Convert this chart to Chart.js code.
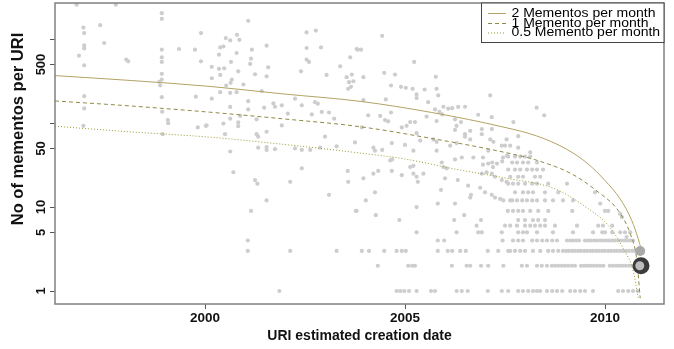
<!DOCTYPE html>
<html>
<head>
<meta charset="utf-8">
<script src="https://cdn.jsdelivr.net/npm/chart.js@4.4.1/dist/chart.umd.min.js"></script>
<style>
  body { margin: 0; background: #fff; }
  #wrap { width: 674px; height: 349px; }
</style>
</head>
<body>
<div id="wrap"><canvas id="mementoChart" width="674" height="349"></canvas></div>
<script>
// axis ticks
const xTicks = [2000, 2005, 2010];
const yTicks = [1, 5, 10, 50, 100, 500, 1000];
const yTickLabels = [1, 5, 10, 50, 500];

// reference curves (mementos expected at a fixed rate)
const curveYears2 = [1996.25, 1998.17, 2000.13, 2001.92, 2003.88, 2005.67, 2007.5, 2008.29, 2009.04, 2009.58, 2010.0, 2010.38, 2010.67, 2010.83, 2010.9];
const perMonth2 = [369, 322, 274, 224, 182, 134, 89, 70.5, 49, 32.6, 20.7, 12.5, 6.9, 4.2, 3.2];
const curveYears1 = [1996.25, 1998.17, 2000.13, 2001.92, 2003.88, 2005.67, 2007.5, 2008.33, 2009.17, 2009.83, 2010.33, 2010.63, 2010.79, 2010.88];
const perMonth1 = [184, 160, 135, 113, 90.7, 65.7, 44.8, 35.7, 24.8, 15.1, 9.1, 4.83, 2.44, 0.82];
const curveYears05 = [1996.25, 1998.17, 2000.13, 2001.92, 2003.75, 2005.0, 2006.25, 2007.5, 2008.75, 2009.58, 2010.08, 2010.46, 2010.71, 2010.83];
const perMonth05 = [91.9, 78.6, 68.1, 56.2, 44.8, 37.4, 28.4, 22.2, 16.5, 9.55, 6.05, 3.2, 1.7, 0.82];

// URIs: [estimated creation year, number of mementos]
const uriPoints = [
  [1996.79,2585],[1997.77,2585],[1998.92,2044],[1998.92,1750],[1996.96,1380],[1997.38,1473],[1996.98,1184],[1999.9,1184],
  [1997.48,902],[1996.98,845],[1996.98,778],[1998.92,751],[1999.35,766],[1999.75,751],[1996.85,637],[1998.92,609],
  [1998.03,572],[1998.08,546],[1998.92,537],[1999.9,546],[1996.98,489],[1998.92,387],[1998.92,331],[1998.86,311],
  [1998.88,281],[1996.98,210],[1998.92,204],[1999.77,207],[1996.98,150],[1998.93,137],[1999.07,109],[1999.08,100],
  [1999.82,89],[2000.02,93],[1996.96,93],[1998.94,74],
  [2001.08,1657],[2002.54,1205],[2002.77,1271],[2000.8,1131],[2000.52,1033],[2000.63,968],[2000.86,986],[2000.38,800],
  [2000.46,820],[2001.54,838],[2001.17,751],[2002.54,787],[2002.9,800],[2003.82,751],[2000.35,655],[2000.79,686],
  [2001.15,587],[2002.54,572],[2002.6,537],[2003.63,609],[2000.65,537],[2001.13,508],[2000.17,469],[2001.58,463],
  [2003.38,476],[2000.35,444],[2000.48,451],[2000.83,415],[2002.4,415],[2001.25,383],[2000.38,376],[2001.54,362],
  [2003.04,376],[2003.67,380],[2003.54,353],[2003.6,308],[2003.71,316],[2003.65,271],[2003.58,257],[2000.17,343],
  [2000.67,331],[2000.64,303],[2000.96,289],[2000.53,281],[2001.42,241],[2000.38,234],[2000.63,230],[2000.79,234],
  [2000.17,196],[2002.25,196],[2001.08,183],[2001.71,172],[2001.75,157],[2002.75,178],[2002.82,171],[2000.63,156],
  [2001.48,153],[2001.92,163],[2002.42,163],[2001.08,146],[2002.92,136],[2003.1,134],[2002.07,130],[2000.88,122],
  [2002.67,127],[2000.63,113],[2003.23,113],[2001.29,111],[2000.83,102],[2000.83,92],[2000.46,99],[2001.92,94],
  [2000.04,94],[2001.54,79],[2001.29,74],[2001.33,69],[2000.5,74],[2003.0,69],[2003.75,59],[2001.33,51],
  [2001.54,52],[2001.54,48],[2001.75,49],[2002.25,50],[2002.88,51],[2003.29,53],[2000.63,46],
  [2004.43,1100],[2003.79,766],[2003.9,751],[2005.23,537],[2004.48,398],[2004.75,380],[2003.96,353],[2005.77,357],
  [2004.65,281],[2004.9,271],[2005.02,264],[2005.19,257],[2005.49,252],[2005.79,257],[2005.29,220],[2005.29,199],
  [2005.83,214],[2007.13,214],[2004.52,192],[2003.96,188],[2005.58,178],[2005.96,157],[2006.08,149],[2006.18,151],
  [2006.33,156],[2006.5,157],[2005.75,146],[2005.86,136],[2005.93,127],[2004.65,134],[2004.08,124],[2004.38,122],
  [2005.54,120],[2006.83,126],[2004.5,109],[2004.58,105],[2005.25,103],[2005.13,103],[2006.25,111],[2006.4,103],
  [2007.17,118],[2003.92,89],[2005.79,106],[2004.92,89],[2005.04,93],[2006.29,93],[2006.25,83],[2006.92,85],
  [2007.17,85],[2005.29,76],[2006.63,81],[2006.63,64],[2006.5,74],[2006.5,69],[2006.92,74],[2007.13,64],
  [2007.21,60],[2004.67,58],[2005.0,55],[2005.38,62],[2005.71,64],[2005.79,60],[2006.13,54],[2006.29,58],
  [2007.42,54],[2007.5,54],[2004.21,51],[2004.25,47],[2004.43,48],[2005.79,47],[2007.08,47],
  [2008.29,153],[2008.48,124],[2007.71,103],[2007.83,70],[2007.54,64],[2007.63,54],[2007.83,51],[2008.13,45],
  [2002.42,48],[2002.63,48],[2000.71,26],[2002.42,29],[2003.57,27],[2001.25,21],[2001.31,19],[2002.13,20],
  [2003.58,20],[2003.1,14],[2001.54,12],[2001.15,9],[2003.77,9],
  [2005.21,47],[2004.63,36],[2004.68,37],[2005.13,30],[2005.21,31],[2004.33,27],[2004.21,25],[2004.67,27],
  [2004.92,24],[2005.21,25],[2005.29,23],[2005.32,20],[2005.46,25],[2005.92,34],[2005.96,30],[2006.04,29],
  [2006.25,37],[2006.42,39],[2006.71,39],[2006.95,39],[2006.95,32],[2007.08,33],[2007.18,34],[2007.2,30],
  [2007.3,33],[2007.43,35],[2007.45,39],[2007.55,41],[2006.0,22],[2006.32,21],[2003.96,22],[2006.92,25],
  [2007.04,26],[2007.17,25],[2007.25,23],[2007.42,21],[2007.54,20],[2006.58,18],[2006.88,17],[2007.0,15],
  [2007.17,14],[2007.25,13],[2007.38,12.5],[2007.46,12],[2006.65,14],[2006.63,13],[2005.9,16],[2004.25,15],
  [2004.02,12],[2005.82,11],[2006.25,11],[2005.29,10],[2007.57,9],[2003.79,9],[2004.27,8],[2006.48,8],
  [2004.86,7],[2006.23,7],[2006.9,7],[2006.79,6],[2007.5,6],
  [2007.83,7],[2008.0,7],[2008.2,7],[2008.33,7],[2008.5,7],
  [2007.7,9],[2007.83,9],[2007.95,9],[2008.13,9],[2008.33,9],[2008.58,9],[2009.18,9],[2010.0,9],[2010.08,9],
  [2007.63,12],[2007.68,12],[2007.8,12],[2007.93,12],[2008.05,12],[2008.18,12],[2008.3,12],[2008.5,12],[2008.7,12],[2008.95,12],[2009.2,12],
  [2007.75,15],[2007.95,15],[2008.08,15],[2008.2,15],[2008.5,15],[2008.83,15],
  [2007.58,19],[2007.7,19],[2007.83,19],[2008.0,19],[2008.18,19],[2008.3,19],[2008.58,19],[2009.05,19],
  [2007.63,23],[2007.83,23],[2007.95,23],[2008.25,23],[2008.38,23],
  [2007.58,28],[2007.75,28],[2007.88,28],[2008.05,28],[2008.18,28],[2008.3,28],[2008.45,28],
  [2007.68,34],[2007.8,34],[2007.95,34],[2008.08,34],[2008.3,34],
  [2007.58,40],[2007.75,40],[2007.88,40],[2008.0,40],[2008.13,40],
  [2009.75,15],[2009.88,11],[2010.42,7.6],[2010.38,8.3],[2010.54,4.4]
];

// URIs with small integer counts (rows at the bottom)
const yearsAt1 = [2001.86, 2004.79, 2004.88, 2004.98, 2005.1, 2005.29, 2005.65, 2005.75, 2006.29, 2006.42, 2006.57, 2007.07, 2007.42,
  2007.58, 2007.83, 2007.95, 2008.08, 2008.2, 2008.3, 2008.38, 2008.55, 2008.68, 2008.8, 2008.93, 2009.13, 2009.25, 2009.38, 2009.5,
  2009.7, 2010.33, 2010.45, 2010.58, 2010.7, 2010.82];
const yearsAt2 = [2004.32, 2005.08, 2005.18, 2005.25, 2006.17, 2006.54, 2006.63, 2006.9, 2007.08, 2007.46, 2007.92, 2008.05,
  2008.3, 2008.42, 2008.55, 2008.67, 2008.75, 2008.83, 2008.92, 2009.0, 2009.08, 2009.17, 2009.25, 2009.4, 2009.48, 2009.56,
  2009.64, 2009.72, 2009.8, 2009.88, 2009.96, 2010.12, 2010.2, 2010.28, 2010.36, 2010.44, 2010.52, 2010.6, 2010.68, 2010.76];
const yearsAt3 = [2001.07, 2002.13, 2003.29, 2003.92, 2004.1, 2004.48, 2004.79, 2004.92, 2005.02, 2005.82, 2006.07, 2006.18,
  2006.38, 2006.52, 2007.07, 2007.33, 2007.58, 2007.63, 2007.75, 2007.88, 2008.0, 2008.2, 2008.38, 2008.58, 2008.7, 2008.83,
  2008.95, 2009.03, 2009.1, 2009.18, 2009.25, 2009.33, 2009.4, 2009.48, 2009.55, 2009.63, 2009.7, 2009.78, 2009.85, 2009.93,
  2010.0, 2010.08, 2010.15, 2010.23, 2010.3, 2010.38, 2010.45, 2010.53, 2010.6, 2010.68, 2010.75];
const yearsAt4 = [2001.07, 2005.82, 2005.98, 2007.44, 2007.7, 2007.83, 2007.95, 2008.18, 2008.3, 2008.43, 2008.55, 2008.68,
  2008.8, 2009.05, 2009.13, 2009.2, 2009.28, 2009.35, 2009.5, 2009.58, 2009.65, 2009.73, 2009.8, 2009.88, 2009.95, 2010.03,
  2010.1, 2010.18, 2010.25, 2010.33, 2010.4, 2010.48, 2010.55, 2010.63, 2010.7];
const yearsAt5 = [2005.29, 2006.29, 2006.83, 2006.92, 2007.42, 2007.83, 2007.95, 2008.05, 2008.3, 2008.7, 2009.2, 2009.7,
  2009.93, 2010.0, 2010.18, 2010.38, 2010.5, 2010.63];
const yearsAt6 = [2007.63, 2007.8, 2008.0, 2008.13, 2008.25, 2008.38, 2008.5, 2008.75, 2009.3, 2009.83, 2009.95, 2010.18];

// the two big markers at the end of the curves
const endYears = [2010.9, 2010.88];
const endCounts = [2, 3];

const toXY = (xs, ys) => xs.map((x, i) => ({x: x, y: ys[i]}));
const rowXY = (xs, v) => xs.map(x => ({x: x, y: v}));

let pts = uriPoints.map(p => ({x: p[0], y: p[1]}));
pts = pts.concat(rowXY(yearsAt1, 1), rowXY(yearsAt2, 2), rowXY(yearsAt3, 3),
  rowXY(yearsAt4, 4), rowXY(yearsAt5, 5), rowXY(yearsAt6, 6));

const FONT = '"Liberation Sans", Arial, sans-serif';

const framePlugin = {
  id: 'frame',
  afterDraw(chart) {
    const ctx = chart.ctx;
    const a = chart.chartArea;
    const y = chart.scales.y;
    ctx.save();
    // box round the plot
    ctx.strokeStyle = '#808080';
    ctx.lineWidth = 1.5;
    ctx.strokeRect(a.left, a.top, a.right - a.left, a.bottom - a.top);

    // y tick labels and y title, rotated like R draws them
    ctx.fillStyle = '#111';
    ctx.textAlign = 'center';
    ctx.textBaseline = 'middle';
    ctx.font = 'bold 13px ' + FONT;
    yTickLabels.forEach(v => {
      ctx.save();
      ctx.translate(41, y.getPixelForValue(v));
      ctx.rotate(-Math.PI / 2);
      ctx.fillText(String(v), 0, 0);
      ctx.restore();
    });
    ctx.save();
    ctx.translate(18.5, 129);
    ctx.rotate(-Math.PI / 2);
    ctx.font = 'bold 16.5px ' + FONT;
    ctx.fillText('No of mementos per URI', 0, 0);
    ctx.restore();

    // legend box
    const bx = 481.5, by = a.top, bw = a.right - 481.5, bh = 39.5;
    ctx.fillStyle = '#fff';
    ctx.fillRect(bx, by, bw, bh);
    ctx.strokeStyle = '#444';
    ctx.lineWidth = 1;
    ctx.strokeRect(bx, by, bw, bh);
    const rows = [13.5, 23.5, 33];
    chart.data.datasets.slice(0, 3).forEach((ds, i) => {
      ctx.strokeStyle = ds.borderColor;
      ctx.lineWidth = 1;
      ctx.setLineDash(ds.borderDash || []);
      ctx.beginPath();
      ctx.moveTo(488, rows[i]);
      ctx.lineTo(506, rows[i]);
      ctx.stroke();
      ctx.setLineDash([]);
      ctx.save();
      ctx.translate(511.5, rows[i]);
      ctx.scale(1, 0.85);
      ctx.fillStyle = '#000';
      ctx.font = '14px ' + FONT;
      ctx.textAlign = 'left';
      ctx.textBaseline = 'middle';
      ctx.fillText(ds.label, 0, 0);
      ctx.restore();
    });
    ctx.restore();
  }
};

new Chart(document.getElementById('mementoChart'), {
  type: 'scatter',
  data: {
    datasets: [
      {
        label: '2 Mementos per month',
        data: toXY(curveYears2, perMonth2),
        showLine: true, pointRadius: 0, borderWidth: 1,
        borderColor: '#b3a264', cubicInterpolationMode: 'monotone', order: 2
      },
      {
        label: '1 Memento per month',
        data: toXY(curveYears1, perMonth1),
        showLine: true, pointRadius: 0, borderWidth: 1, borderDash: [4, 3],
        borderColor: '#8f8a45', cubicInterpolationMode: 'monotone', order: 2
      },
      {
        label: '0.5 Memento per month',
        data: toXY(curveYears05, perMonth05),
        showLine: true, pointRadius: 0, borderWidth: 1, borderDash: [1, 2],
        borderColor: '#9c9a30', cubicInterpolationMode: 'monotone', order: 2
      },
      {
        label: 'end',
        data: toXY(endYears, endCounts),
        pointRadius: [8.5, 5], pointBackgroundColor: ['#3b3b3b', '#a9a9a9'],
        pointBorderWidth: 0, order: 1
      },
      {
        label: 'end inner',
        data: [{x: endYears[0] - 0.03, y: endCounts[0]}],
        pointRadius: 4.5, pointBackgroundColor: '#bdbdbd', pointBorderWidth: 0, order: 0
      },
      {
        label: 'URIs',
        data: pts,
        pointRadius: 2.1, pointBackgroundColor: '#cdcdcd', pointBorderWidth: 0, order: 3
      }
    ]
  },
  options: {
    responsive: false,
    animation: false,
    layout: { autoPadding: false, padding: { left: 0, top: 3, right: 10, bottom: 0 } },
    plugins: { legend: { display: false }, tooltip: { enabled: false } },
    scales: {
      x: {
        type: 'linear',
        min: 1996.25,
        max: 2011.475,
        afterBuildTicks: s => { s.ticks = xTicks.map(v => ({value: v})); },
        afterFit: s => { s.height = 45; },
        grid: { drawOnChartArea: false, drawTicks: true, tickLength: 5, tickColor: '#555' },
        border: { display: false },
        ticks: {
          padding: 1, color: '#111',
          font: { family: FONT, size: 13.5, weight: 'bold' },
          callback: v => String(v)
        },
        title: {
          display: true, text: 'URI estimated creation date', color: '#111',
          font: { family: FONT, size: 14, weight: 'bold' },
          padding: { top: 0, bottom: 4 }
        }
      },
      y: {
        type: 'logarithmic',
        min: 0.735,
        max: 2705,
        afterBuildTicks: s => { s.ticks = yTicks.map(v => ({value: v})); },
        afterFit: s => { s.width = 55; },
        grid: { drawOnChartArea: false, drawTicks: true, tickLength: 5, tickColor: '#555' },
        border: { display: false },
        ticks: { display: false }
      }
    }
  },
  plugins: [framePlugin]
});
</script>
</body>
</html>
